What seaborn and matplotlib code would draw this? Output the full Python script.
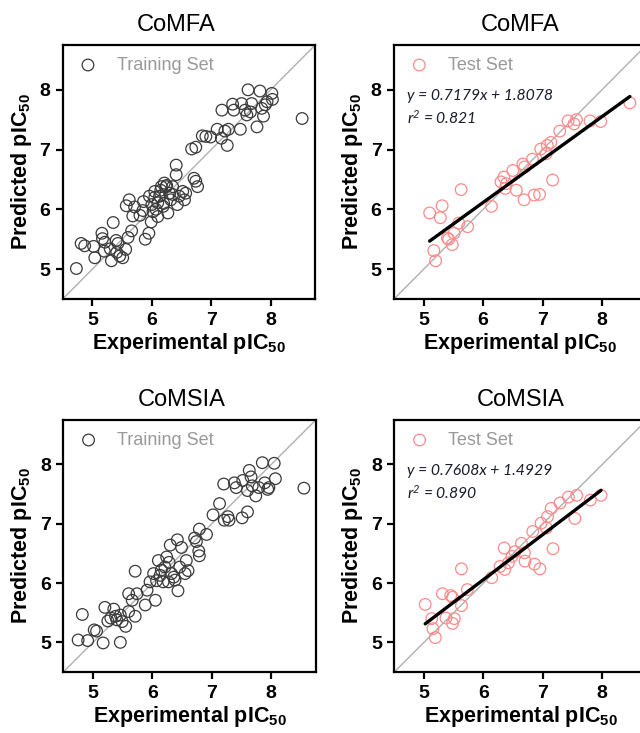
import numpy as np
import matplotlib
matplotlib.use("Agg")
import matplotlib.pyplot as plt
import seaborn as sns

sns.set_theme(style="white")
plt.rcParams['font.family'] = ['Liberation Sans', 'DejaVu Sans']
plt.rcParams['mathtext.default'] = 'regular'
plt.rcParams['text.color'] = 'black'
plt.rcParams['axes.labelcolor'] = 'black'
plt.rcParams['xtick.color'] = 'black'
plt.rcParams['ytick.color'] = 'black'

# CoMFA training set
comfa_train_exp = [4.73, 4.81, 4.87, 5.02, 5.04, 5.16, 5.17, 5.21, 5.30, 5.32, 5.35, 5.41, 5.43, 5.46,
                   5.51, 5.56, 5.60, 5.66, 5.68, 5.57, 5.62, 5.71, 5.86, 5.89, 5.95, 5.85, 5.99, 6.02,
                   6.05, 6.10, 6.13, 6.16, 6.19, 6.21, 6.24, 6.27, 6.30, 6.32, 6.35, 6.41, 6.41, 6.43,
                   6.46, 6.52, 6.55, 6.57, 6.10, 5.96, 6.07, 6.71, 6.77, 6.74, 6.67, 6.74, 6.85, 6.91,
                   6.99, 7.10, 7.18, 7.17, 7.23, 7.27, 7.29, 7.36, 7.38, 7.49, 7.51, 7.57, 7.60, 7.62,
                   7.66, 7.68, 7.77, 7.82, 7.85, 7.88, 7.91, 8.02, 8.03, 7.94, 8.53, 6.05, 6.15, 6.20,
                   6.00, 5.80, 5.40, 6.25, 6.35, 5.20]
comfa_train_pred = [5.01, 5.43, 5.39, 5.38, 5.19, 5.60, 5.51, 5.45, 5.34, 5.14, 5.78, 5.28, 5.43, 5.22,
                    5.19, 5.33, 5.53, 5.64, 5.89, 6.06, 6.16, 6.04, 6.13, 5.50, 5.60, 5.98, 5.79, 5.96,
                    6.30, 6.11, 6.22, 6.38, 6.05, 6.44, 6.38, 5.94, 6.27, 6.16, 6.38, 6.74, 6.58, 6.08,
                    6.22, 6.30, 6.16, 6.27, 5.88, 6.22, 6.00, 6.52, 6.38, 6.47, 7.01, 7.04, 7.23, 7.22,
                    7.21, 7.34, 7.66, 7.19, 7.31, 7.07, 7.34, 7.76, 7.66, 7.34, 7.77, 7.66, 7.58, 8.00,
                    7.63, 7.77, 7.38, 7.98, 7.69, 7.56, 7.75, 7.94, 7.84, 7.80, 7.52, 6.20, 6.32, 6.10,
                    6.08, 5.90, 5.48, 6.40, 6.25, 5.30]

# CoMFA test set
comfa_test_exp = [5.10, 5.17, 5.20, 5.28, 5.31, 5.40, 5.42, 5.48, 5.51, 5.59, 5.63, 5.74, 6.14, 6.30,
                  6.35, 6.37, 6.39, 6.50, 6.56, 6.67, 6.69, 6.70, 6.86, 6.95, 6.83, 6.97, 7.06, 7.08,
                  7.14, 7.17, 7.29, 7.43, 7.53, 7.57, 7.80, 7.98, 8.47]
comfa_test_pred = [5.94, 5.31, 5.14, 5.86, 6.06, 5.52, 5.50, 5.41, 5.60, 5.77, 6.33, 5.71, 6.05, 6.46,
                   6.54, 6.35, 6.43, 6.65, 6.32, 6.76, 6.16, 6.71, 6.24, 6.25, 6.84, 7.01, 6.93, 7.07,
                   7.12, 6.49, 7.31, 7.48, 7.43, 7.50, 7.48, 7.47, 7.78]
comfa_fit = (0.7179, 1.8078, 0.821)

# CoMSIA training set
comsia_train_exp = [4.75, 4.82, 4.91, 5.02, 5.06, 5.17, 5.20, 5.30, 5.35, 5.38, 5.46, 5.46, 5.49, 5.55,
                    5.60, 5.60, 5.66, 5.71, 5.71, 5.74, 5.88, 5.91, 5.96, 6.05, 6.02, 6.07, 6.10, 6.13,
                    6.18, 6.21, 6.24, 6.27, 6.30, 6.32, 6.38, 6.42, 6.43, 6.46, 6.49, 6.55, 6.57, 6.60,
                    6.71, 6.74, 6.78, 6.79, 6.79, 6.91, 7.02, 7.13, 7.20, 7.21, 7.27, 7.29, 7.38, 7.41,
                    7.51, 7.52, 7.60, 7.63, 7.66, 7.60, 7.68, 7.74, 7.79, 7.85, 7.89, 7.94, 8.05, 8.07,
                    7.96, 8.55, 6.28, 6.36, 6.15, 5.40, 5.25]
comsia_train_pred = [5.04, 5.47, 5.03, 5.21, 5.19, 4.99, 5.59, 5.41, 5.56, 5.44, 5.00, 5.46, 5.35, 5.27,
                     5.52, 5.82, 5.71, 5.44, 6.20, 5.82, 5.63, 5.88, 6.02, 5.71, 6.16, 6.04, 6.38, 6.13,
                     6.02, 6.27, 6.44, 6.02, 6.64, 6.16, 6.05, 6.73, 5.87, 6.27, 6.60, 6.16, 6.38, 6.21,
                     6.76, 6.70, 6.54, 6.46, 6.91, 6.82, 7.15, 7.34, 7.67, 7.06, 7.12, 7.06, 7.69, 7.61,
                     7.10, 7.73, 7.20, 7.90, 7.79, 7.56, 7.64, 7.47, 7.61, 8.03, 7.69, 7.58, 8.02, 7.76,
                     7.61, 7.60, 6.35, 6.10, 6.22, 5.38, 5.36]

# CoMSIA test set
comsia_test_exp = [5.02, 5.13, 5.15, 5.19, 5.31, 5.37, 5.45, 5.48, 5.51, 5.48, 5.63, 5.63, 5.73, 6.14,
                   6.28, 6.35, 6.36, 6.42, 6.48, 6.53, 6.64, 6.69, 6.70, 6.83, 6.86, 6.95, 6.97, 7.06,
                   7.08, 7.14, 7.17, 7.29, 7.43, 7.54, 7.57, 7.80, 7.98]
comsia_test_pred = [5.64, 5.40, 5.23, 5.08, 5.82, 5.41, 5.79, 5.32, 5.40, 5.76, 6.24, 5.62, 5.89, 6.09,
                    6.28, 6.59, 6.23, 6.34, 6.45, 6.53, 6.67, 6.51, 6.37, 6.87, 6.32, 6.24, 7.01, 6.93,
                    7.12, 7.26, 6.58, 7.35, 7.45, 7.09, 7.48, 7.40, 7.48]
comsia_fit = (0.7608, 1.4929, 0.890)

titles = ["CoMFA", "CoMFA", "CoMSIA", "CoMSIA"]
title_x = [0.45, 0.5, 0.47, 0.5]
lims = (4.5, 8.75)
ticks = [5, 6, 7, 8]

fig = plt.figure(figsize=(6.4, 7.33), dpi=100)
W, H = 640, 733
boxes = [(62.7, 45, 252.5, 254), (394, 45, 252.5, 254),
         (63.3, 420, 252.5, 252), (394.3, 420, 252.5, 252)]
axes = [fig.add_axes([x / W, 1 - (y + h) / H, w / W, h / H]) for x, y, w, h in boxes]

panels = [
    (comfa_train_exp, comfa_train_pred, "Training Set", "#3a3a3a", None),
    (comfa_test_exp, comfa_test_pred, "Test Set", "#ff8a8a", comfa_fit),
    (comsia_train_exp, comsia_train_pred, "Training Set", "#3a3a3a", None),
    (comsia_test_exp, comsia_test_pred, "Test Set", "#ff8a8a", comsia_fit),
]

for ax, title, tx, (xs, ys, lab, col, fit) in zip(axes, titles, title_x, panels):
    ax.plot(lims, lims, color="#b0b0b0", lw=1.0, zorder=1)
    sns.scatterplot(x=xs, y=ys, ax=ax, marker="o", s=70, facecolor="none",
                    edgecolor=col, linewidth=0.9, label=lab, zorder=3)
    if fit is not None:
        a, b, r2 = fit
        xx = np.linspace(min(xs), max(xs), 50)
        ax.plot(xx, a * xx + b, color="black", lw=2.4, zorder=4)
        ax.text(0.05, 0.825, f"y = {a:.4f}x + {b:.4f}\n$r^2$ = {r2:.3f}",
                transform=ax.transAxes, fontsize=11.3, style="italic",
                family=["Lato", "DejaVu Sans"], color="#1a1d2e",
                linespacing=1.35, va="top", ha="left")
    ax.set_xlim(lims)
    ax.set_ylim(lims)
    ax.set_xticks(ticks)
    ax.set_yticks(ticks)
    for sp in ax.spines.values():
        sp.set_visible(True)
        sp.set_color("black")
        sp.set_linewidth(1.6)
    ax.tick_params(axis="both", which="major", direction="out", length=5, width=1.6,
                   color="black", labelcolor="black", labelsize=14, left=True, bottom=True, pad=4)
    for t in ax.get_xticklabels() + ax.get_yticklabels():
        t.set_fontweight("bold")
    ax.set_xlabel("Experimental pIC$_{50}$", fontsize=15.5, fontweight="bold", labelpad=2)
    ax.set_ylabel("Predicted pIC$_{50}$", fontsize=15.5, fontweight="bold", labelpad=4)
    ax.set_title(title, fontsize=17, pad=10, x=tx)
    ax.legend(loc="upper left", frameon=False, labelcolor="#999999",
              handlelength=1.5, handletextpad=0.85, borderaxespad=0.25,
              prop={"family": ["Liberation Sans", "DejaVu Sans"], "size": 13})

fig.savefig("out.png", dpi=100)
